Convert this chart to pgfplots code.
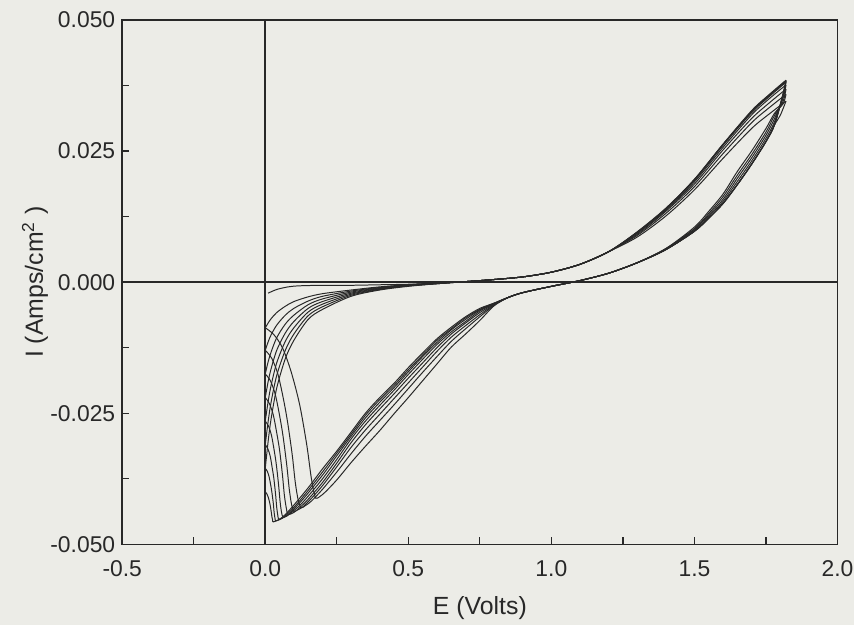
\documentclass[border=0pt]{standalone}
\usepackage{fontspec}
\setmainfont{Liberation Sans}
\usepackage{pgfplots}
\pgfplotsset{compat=1.18}
\usetikzlibrary{backgrounds}
\definecolor{paper}{RGB}{236,236,231}
\definecolor{ink}{RGB}{40,40,40}

\begin{document}
\begin{tikzpicture}
\begin{axis}[
  scale only axis, width=360pt, height=264pt,
  xmin=-0.5, xmax=2.0, ymin=-0.05, ymax=0.05,
  axis line style={ink, line width=0.8pt},
  xtick={-0.5,0,0.5,1,1.5,2}, ytick={-0.05,-0.025,0,0.025,0.05},
  minor x tick num=1, minor y tick num=1,
  tick align=inside, xtick pos=left, ytick pos=left,
  major tick length=3.5pt, minor tick length=3.5pt,
  every tick/.style={ink, line width=0.6pt},
  scaled y ticks=false, scaled x ticks=false,
  tick label style={font=\fontsize{11.5}{13}\selectfont, ink},
  x tick label style={yshift=-4.5pt, /pgf/number format/.cd, fixed, fixed zerofill, precision=1, assume math mode=true, /tikz/.cd},
  y tick label style={/pgf/number format/.cd, fixed, fixed zerofill, precision=3, assume math mode=true, /tikz/.cd},
  label style={font=\fontsize{12.5}{15}\selectfont, ink},
  xlabel={E (Volts)}, ylabel={I (Amps/cm\textsuperscript{2} )},
  xlabel style={at={(axis description cs:0.5,-0.122)}, anchor=center},
  ylabel style={at={(axis description cs:-0.122,0.5)}, anchor=center},
  cv/.style={ink, line width=0.5pt, smooth, tension=0.5, mark=none},
]
\path (rel axis cs:0,0) coordinate (sw) (rel axis cs:1,1) coordinate (ne);
\draw[ink, line width=0.8pt] (axis cs:-0.5,0) -- (axis cs:2,0);
\draw[ink, line width=0.8pt] (axis cs:0,-0.05) -- (axis cs:0,0.05);

% cycle 1
\addplot[cv] coordinates {(0.01,-0.0021) (0.04,-0.0014) (0.08,-0.0009) (0.12,-0.0007) (0.2,-0.0006) (0.3,-0.0006) (0.4,-0.0005) (0.5,-0.0004) (0.6,-0.0002) (0.7,0.0001) (0.8,0.0005) (0.9,0.0010) (1.0,0.0019) (1.1,0.0034) (1.2,0.0058) (1.3,0.0086) (1.4,0.0126) (1.5,0.0176) (1.6,0.0236) (1.7,0.0293) (1.76,0.0320) (1.82,0.0345)};
\addplot[cv] coordinates {(1.82,0.0345) (1.80,0.0318) (1.78,0.0300) (1.75,0.0268) (1.70,0.0225) (1.65,0.0186) (1.60,0.0150) (1.55,0.0122) (1.50,0.0097) (1.40,0.0062) (1.30,0.0037) (1.20,0.0017) (1.10,0.0003) (1.00,-0.0008) (0.90,-0.0020) (0.85,-0.0029) (0.80,-0.0045) (0.75,-0.0073) (0.70,-0.0099) (0.65,-0.0124) (0.60,-0.0156) (0.55,-0.0188) (0.50,-0.0220) (0.45,-0.0251) (0.40,-0.0283) (0.35,-0.0313) (0.30,-0.0344) (0.25,-0.0377) (0.21,-0.0400) (0.19,-0.0409) (0.177,-0.0412) (0.170,-0.0400) (0.160,-0.0370) (0.145,-0.0310) (0.12,-0.0233) (0.09,-0.0170) (0.06,-0.0125) (0.03,-0.0100) (0.0,-0.0087)};

% cycle 2
\addplot[cv] coordinates {(0,-0.0087) (0.01,-0.0078) (0.02,-0.0070) (0.04,-0.0058) (0.07,-0.0046) (0.10,-0.0037) (0.15,-0.0028) (0.20,-0.0022) (0.30,-0.0015) (0.40,-0.0009) (0.5,-0.0005) (0.6,-0.0002) (0.7,0.0001) (0.8,0.0005) (0.9,0.0010) (1.0,0.0019) (1.1,0.0034) (1.2,0.0058) (1.3,0.0089) (1.4,0.0131) (1.5,0.0182) (1.6,0.0245) (1.7,0.0304) (1.76,0.0332) (1.82,0.0358)};
\addplot[cv] coordinates {(1.82,0.0358) (1.81,0.0340) (1.78,0.0322) (1.75,0.0293) (1.70,0.0250) (1.65,0.0211) (1.60,0.0168) (1.55,0.0135) (1.50,0.0105) (1.40,0.0064) (1.30,0.0037) (1.20,0.0017) (1.10,0.0003) (1.00,-0.0008) (0.90,-0.0020) (0.85,-0.0029) (0.80,-0.0044) (0.75,-0.0066) (0.70,-0.0089) (0.65,-0.0113) (0.60,-0.0142) (0.55,-0.0172) (0.50,-0.0203) (0.45,-0.0234) (0.40,-0.0264) (0.35,-0.0294) (0.30,-0.0327) (0.25,-0.0362) (0.20,-0.0395) (0.16,-0.0418) (0.14,-0.0426) (0.125,-0.0430) (0.115,-0.0415) (0.105,-0.0382) (0.094,-0.0328) (0.0775,-0.0265) (0.0625,-0.0220) (0.044,-0.0175) (0.0225,-0.0145) (0,-0.0130)};

% cycle 3
\addplot[cv] coordinates {(0,-0.0130) (0.01,-0.0114) (0.02,-0.0101) (0.04,-0.0082) (0.07,-0.0063) (0.10,-0.0050) (0.15,-0.0036) (0.20,-0.0027) (0.30,-0.0017) (0.40,-0.0010) (0.5,-0.0005) (0.6,-0.0002) (0.7,0.0001) (0.8,0.0005) (0.9,0.0010) (1.0,0.0019) (1.1,0.0034) (1.2,0.0058) (1.3,0.0091) (1.4,0.0135) (1.5,0.0187) (1.6,0.0252) (1.7,0.0312) (1.76,0.0341) (1.82,0.0368)};
\addplot[cv] coordinates {(1.82,0.0368) (1.81,0.0345) (1.78,0.0318) (1.75,0.0286) (1.70,0.0243) (1.65,0.0204) (1.60,0.0163) (1.55,0.0131) (1.50,0.0102) (1.40,0.0064) (1.30,0.0037) (1.20,0.0017) (1.10,0.0003) (1.00,-0.0008) (0.90,-0.0020) (0.85,-0.0029) (0.80,-0.0043) (0.75,-0.0062) (0.70,-0.0083) (0.65,-0.0105) (0.60,-0.0132) (0.55,-0.0162) (0.50,-0.0192) (0.45,-0.0222) (0.40,-0.0252) (0.35,-0.0282) (0.30,-0.0315) (0.25,-0.0352) (0.20,-0.0388) (0.16,-0.0413) (0.13,-0.0429) (0.11,-0.0435) (0.100,-0.0437) (0.092,-0.0424) (0.084,-0.0395) (0.075,-0.0348) (0.062,-0.0293) (0.050,-0.0254) (0.035,-0.0214) (0.018,-0.0188) (0,-0.0175)};

% cycle 4
\addplot[cv] coordinates {(0,-0.0175) (0.01,-0.0152) (0.02,-0.0134) (0.04,-0.0106) (0.07,-0.0080) (0.10,-0.0063) (0.15,-0.0043) (0.20,-0.0032) (0.30,-0.0019) (0.40,-0.0011) (0.5,-0.0006) (0.6,-0.0002) (0.7,0.0001) (0.8,0.0005) (0.9,0.0010) (1.0,0.0019) (1.1,0.0034) (1.2,0.0058) (1.3,0.0093) (1.4,0.0137) (1.5,0.0191) (1.6,0.0257) (1.7,0.0319) (1.76,0.0349) (1.82,0.0376)};
\addplot[cv] coordinates {(1.82,0.0376) (1.81,0.0351) (1.78,0.0312) (1.75,0.0280) (1.70,0.0237) (1.65,0.0198) (1.60,0.0158) (1.55,0.0128) (1.50,0.0101) (1.40,0.0063) (1.30,0.0037) (1.20,0.0017) (1.10,0.0003) (1.00,-0.0008) (0.90,-0.0020) (0.85,-0.0029) (0.80,-0.0042) (0.75,-0.0058) (0.70,-0.0078) (0.65,-0.0099) (0.60,-0.0125) (0.55,-0.0154) (0.50,-0.0183) (0.45,-0.0213) (0.40,-0.0242) (0.35,-0.0272) (0.30,-0.0306) (0.25,-0.0345) (0.20,-0.0382) (0.15,-0.0414) (0.12,-0.0430) (0.10,-0.0439) (0.080,-0.0443) (0.074,-0.0432) (0.067,-0.0407) (0.060,-0.0367) (0.050,-0.0320) (0.040,-0.0287) (0.028,-0.0253) (0.014,-0.0231) (0,-0.0220)};

% cycle 5
\addplot[cv] coordinates {(0,-0.0220) (0.01,-0.0190) (0.02,-0.0166) (0.04,-0.0130) (0.07,-0.0097) (0.10,-0.0075) (0.15,-0.0050) (0.20,-0.0037) (0.30,-0.0021) (0.40,-0.0012) (0.5,-0.0006) (0.6,-0.0002) (0.7,0.0001) (0.8,0.0005) (0.9,0.0010) (1.0,0.0019) (1.1,0.0034) (1.2,0.0058) (1.3,0.0095) (1.4,0.0139) (1.5,0.0194) (1.6,0.0261) (1.7,0.0323) (1.76,0.0353) (1.82,0.0381)};
\addplot[cv] coordinates {(1.82,0.0381) (1.81,0.0356) (1.78,0.0306) (1.75,0.0274) (1.70,0.0231) (1.65,0.0192) (1.60,0.0154) (1.55,0.0125) (1.50,0.0099) (1.40,0.0062) (1.30,0.0037) (1.20,0.0017) (1.10,0.0003) (1.00,-0.0008) (0.90,-0.0020) (0.85,-0.0029) (0.80,-0.0041) (0.75,-0.0055) (0.70,-0.0075) (0.65,-0.0095) (0.60,-0.0119) (0.55,-0.0147) (0.50,-0.0176) (0.45,-0.0206) (0.40,-0.0235) (0.35,-0.0265) (0.30,-0.0299) (0.25,-0.0338) (0.20,-0.0375) (0.15,-0.0408) (0.12,-0.0426) (0.09,-0.0440) (0.075,-0.0446) (0.062,-0.0448) (0.057,-0.0439) (0.052,-0.0419) (0.0465,-0.0386) (0.0385,-0.0347) (0.031,-0.0320) (0.0217,-0.0292) (0.011,-0.0274) (0,-0.0265)};

% cycle 6
\addplot[cv] coordinates {(0,-0.0265) (0.01,-0.0228) (0.02,-0.0198) (0.04,-0.0154) (0.07,-0.0113) (0.10,-0.0087) (0.15,-0.0057) (0.20,-0.0042) (0.30,-0.0023) (0.40,-0.0013) (0.5,-0.0007) (0.6,-0.0003) (0.7,0.0001) (0.8,0.0005) (0.9,0.0010) (1.0,0.0019) (1.1,0.0034) (1.2,0.0058) (1.3,0.0095) (1.4,0.0140) (1.5,0.0195) (1.6,0.0262) (1.7,0.0325) (1.76,0.0355) (1.82,0.0383)};
\addplot[cv] coordinates {(1.82,0.0383) (1.81,0.0358) (1.78,0.0300) (1.75,0.0268) (1.70,0.0225) (1.65,0.0186) (1.60,0.0150) (1.55,0.0122) (1.50,0.0097) (1.40,0.0062) (1.30,0.0037) (1.20,0.0017) (1.10,0.0003) (1.00,-0.0008) (0.90,-0.0020) (0.85,-0.0029) (0.80,-0.0041) (0.75,-0.0053) (0.70,-0.0071) (0.65,-0.0091) (0.60,-0.0115) (0.55,-0.0142) (0.50,-0.0171) (0.45,-0.0201) (0.40,-0.0229) (0.35,-0.0259) (0.30,-0.0294) (0.25,-0.0331) (0.20,-0.0368) (0.15,-0.0402) (0.12,-0.0421) (0.09,-0.0438) (0.07,-0.0447) (0.048,-0.0452) (0.044,-0.0445) (0.040,-0.0429) (0.036,-0.0404) (0.030,-0.0374) (0.024,-0.0353) (0.017,-0.0331) (0.0086,-0.0317) (0,-0.0310)};

% cycle 7
\addplot[cv] coordinates {(0,-0.0310) (0.01,-0.0266) (0.02,-0.0230) (0.04,-0.0178) (0.07,-0.0130) (0.10,-0.0099) (0.15,-0.0064) (0.20,-0.0047) (0.30,-0.0025) (0.40,-0.0014) (0.5,-0.0007) (0.6,-0.0003) (0.7,0.0001) (0.8,0.0005) (0.9,0.0010) (1.0,0.0019) (1.1,0.0034) (1.2,0.0058) (1.3,0.0095) (1.4,0.0140) (1.5,0.0196) (1.6,0.0263) (1.7,0.0326) (1.76,0.0356) (1.82,0.0384)};
\addplot[cv] coordinates {(1.82,0.0384) (1.81,0.0359) (1.78,0.0300) (1.75,0.0268) (1.70,0.0225) (1.65,0.0186) (1.60,0.0150) (1.55,0.0122) (1.50,0.0097) (1.40,0.0062) (1.30,0.0037) (1.20,0.0017) (1.10,0.0003) (1.00,-0.0008) (0.90,-0.0020) (0.85,-0.0029) (0.80,-0.0040) (0.75,-0.0052) (0.70,-0.0068) (0.65,-0.0089) (0.60,-0.0111) (0.55,-0.0139) (0.50,-0.0167) (0.45,-0.0197) (0.40,-0.0224) (0.35,-0.0254) (0.30,-0.0290) (0.25,-0.0326) (0.20,-0.0362) (0.15,-0.0397) (0.12,-0.0417) (0.09,-0.0435) (0.06,-0.0450) (0.037,-0.0455) (0.034,-0.0450) (0.031,-0.0439) (0.028,-0.0421) (0.023,-0.0400) (0.0185,-0.0385) (0.013,-0.0370) (0.0067,-0.0360) (0,-0.0355)};

% cycle 8
\addplot[cv] coordinates {(0,-0.0355) (0.01,-0.0304) (0.02,-0.0262) (0.04,-0.0202) (0.07,-0.0146) (0.10,-0.0111) (0.15,-0.0071) (0.20,-0.0052) (0.30,-0.0027) (0.40,-0.0015) (0.5,-0.0008) (0.6,-0.0003) (0.7,0.0001) (0.8,0.0005) (0.9,0.0010) (1.0,0.0019) (1.1,0.0034) (1.2,0.0058) (1.3,0.0096) (1.4,0.0141) (1.5,0.0196) (1.6,0.0263) (1.7,0.0327) (1.76,0.0357) (1.82,0.0385)};
\addplot[cv] coordinates {(1.82,0.0385) (1.81,0.0360) (1.78,0.0300) (1.75,0.0268) (1.70,0.0225) (1.65,0.0186) (1.60,0.0150) (1.55,0.0122) (1.50,0.0097) (1.40,0.0062) (1.30,0.0037) (1.20,0.0017) (1.10,0.0003) (1.00,-0.0008) (0.90,-0.0020) (0.85,-0.0029) (0.80,-0.0040) (0.75,-0.0050) (0.70,-0.0066) (0.65,-0.0086) (0.60,-0.0108) (0.55,-0.0135) (0.50,-0.0163) (0.45,-0.0193) (0.40,-0.0220) (0.35,-0.0250) (0.30,-0.0286) (0.25,-0.0322) (0.20,-0.0356) (0.15,-0.0392) (0.10,-0.0425) (0.07,-0.0443) (0.05,-0.0452) (0.028,-0.0457) (0.026,-0.0454) (0.0235,-0.0448) (0.021,-0.0438) (0.0174,-0.0426) (0.014,-0.0417) (0.0098,-0.0409) (0.005,-0.0403) (0,-0.0400)};
\end{axis}
\begin{scope}[on background layer]
\fill[paper] ([shift={(-61.5pt,-40.5pt)}]sw) rectangle ([shift={(8.5pt,10pt)}]ne);
\end{scope}
\end{tikzpicture}
\end{document}
